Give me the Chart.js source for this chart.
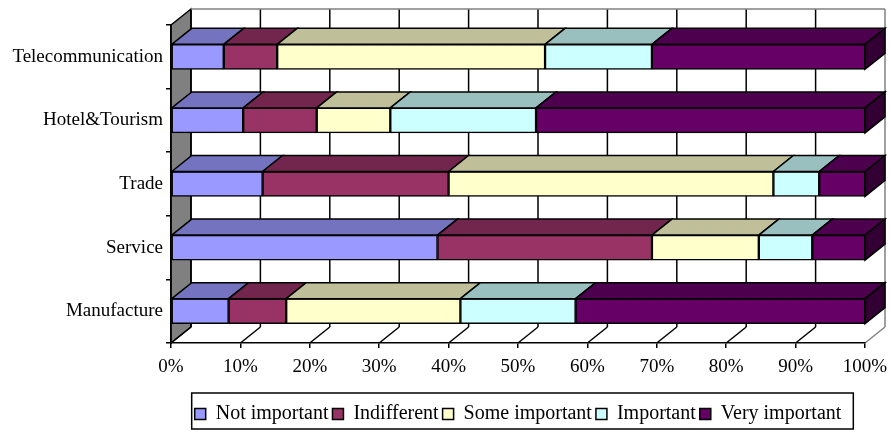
<!DOCTYPE html>
<html lang="en">
<head>
<meta charset="UTF-8">
<title>Importance by sector</title>
<script src="https://cdn.jsdelivr.net/npm/chart.js"></script>
<style>
  html, body { margin: 0; padding: 0; background: #fff; }
  #wrap { width: 892px; height: 432px; }
</style>
</head>
<body>
<div id="wrap"><canvas id="chart"></canvas></div>
<script>
// data (percent of answers per sector)
const sectors = ['Telecommunication', 'Hotel&Tourism', 'Trade', 'Service', 'Manufacture'];
const notImportant  = [7.6, 10.4, 13.2, 38.4, 8.3];
const indifferent   = [7.7, 10.6, 26.8, 30.9, 8.3];
const someImportant = [38.6, 10.6, 46.8, 15.4, 25.1];
const important     = [15.4, 21.0, 6.6, 7.7, 16.6];
const veryImportant = [30.7, 47.4, 6.6, 7.6, 41.7];
const xTicks = [0, 10, 20, 30, 40, 50, 60, 70, 80, 90, 100];

const FONT = 'Liberation Serif, Times New Roman, serif';
const depth = { dx: 20, dy: 16 };

function series(label, data, front, top) {
    return { label, data, backgroundColor: front, topColor: top,
             borderColor: '#000', borderWidth: 1.5, borderSkipped: false, barThickness: 25 };
}

// draws the walls, floor and the top / side faces of the bars
const threeD = {
    id: 'threeD',
    beforeDraw(chart) {
        const { ctx, chartArea: a, scales: { x } } = chart;
        const { dx, dy } = depth;
        ctx.save();
        ctx.lineWidth = 1.5;
        // left wall
        ctx.beginPath();
        ctx.moveTo(a.left, a.top);
        ctx.lineTo(a.left + dx, a.top - dy);
        ctx.lineTo(a.left + dx, a.bottom - dy);
        ctx.lineTo(a.left, a.bottom);
        ctx.closePath();
        ctx.fillStyle = '#808080';
        ctx.fill();
        ctx.strokeStyle = '#000';
        ctx.stroke();
        // back wall grid
        xTicks.forEach(v => {
            const px = x.getPixelForValue(v) + dx;
            ctx.beginPath();
            ctx.moveTo(px, a.top - dy);
            ctx.lineTo(px, a.bottom - dy);
            ctx.strokeStyle = v === 100 ? '#808080' : '#000';
            ctx.stroke();
        });
        ctx.beginPath();
        ctx.moveTo(a.left + dx, a.top - dy);
        ctx.lineTo(a.right + dx, a.top - dy);
        ctx.strokeStyle = '#808080';
        ctx.stroke();
        // floor
        xTicks.forEach(v => {
            const px = x.getPixelForValue(v);
            ctx.beginPath();
            ctx.moveTo(px, a.bottom);
            ctx.lineTo(px + dx, a.bottom - dy);
            ctx.strokeStyle = v === 100 ? '#808080' : '#000';
            ctx.stroke();
        });
        ctx.restore();
    },
    afterDatasetsDraw(chart) {
        const { ctx } = chart;
        const { dx, dy } = depth;
        const last = chart.data.datasets.length - 1;
        ctx.save();
        ctx.lineWidth = 1.5;
        ctx.strokeStyle = '#000';
        chart.data.datasets.forEach((ds, i) => {
            chart.getDatasetMeta(i).data.forEach(bar => {
                const { x, y, base, height } = bar.getProps(['x', 'y', 'base', 'height'], true);
                const t = y - height / 2, b = y + height / 2;
                ctx.beginPath();
                ctx.moveTo(base, t);
                ctx.lineTo(base + dx, t - dy);
                ctx.lineTo(x + dx, t - dy);
                ctx.lineTo(x, t);
                ctx.closePath();
                ctx.fillStyle = ds.topColor;
                ctx.fill();
                ctx.stroke();
                if (i === last) {
                    ctx.beginPath();
                    ctx.moveTo(x, t);
                    ctx.lineTo(x + dx, t - dy);
                    ctx.lineTo(x + dx, b - dy);
                    ctx.lineTo(x, b);
                    ctx.closePath();
                    ctx.fillStyle = '#330033';
                    ctx.fill();
                    ctx.stroke();
                }
            });
        });
        ctx.restore();
    },
    afterDraw(chart) {
        // frame round the legend
        const boxes = chart.legend.legendHitBoxes;
        if (!boxes || !boxes.length) return;
        const left = Math.min(...boxes.map(h => h.left)) - 3;
        const right = Math.max(...boxes.map(h => h.left + h.width)) + 12;
        const top = Math.min(...boxes.map(h => h.top)) - 11;
        const bottom = Math.max(...boxes.map(h => h.top + h.height)) + 5;
        const { ctx } = chart;
        ctx.save();
        ctx.lineWidth = 1.5;
        ctx.strokeStyle = '#000';
        ctx.strokeRect(left, top, right - left, bottom - top);
        ctx.restore();
    }
};

new Chart(document.getElementById('chart'), {
    type: 'bar',
    data: {
        labels: sectors,
        datasets: [
            series('Not important', notImportant, '#9999FF', '#7373BF'),
            series('Indifferent', indifferent, '#993366', '#73264D'),
            series('Some important', someImportant, '#FFFFCC', '#BFBF99'),
            series('Important', important, '#CCFFFF', '#99BFBF'),
            series('Very important', veryImportant, '#660066', '#4D004D')
        ]
    },
    options: {
        indexAxis: 'y',
        responsive: true,
        maintainAspectRatio: false,
        devicePixelRatio: 1,
        animation: false,
        layout: { padding: { top: 25, right: 27, left: 0, bottom: -2 } },
        scales: {
            x: {
                stacked: true, min: 0, max: 100,
                afterBuildTicks: s => { s.ticks = xTicks.map(v => ({ value: v })); },
                afterFit: s => { s.height = 57; s.paddingLeft = 0; s.paddingRight = 0; },
                ticks: { callback: v => v + '%', color: '#000', font: { family: FONT, size: 19 }, padding: 8, maxRotation: 0 },
                grid: { drawOnChartArea: false, color: '#000', tickLength: 5, lineWidth: 1.5 },
                border: { color: '#000', width: 1.5 }
            },
            y: {
                stacked: true,
                afterFit: s => { s.width = 171; },
                ticks: { color: '#000', font: { family: FONT, size: 19 }, padding: 3 },
                grid: { drawOnChartArea: false, color: '#000', tickLength: 5, lineWidth: 1.5, offset: true },
                border: { color: '#000', width: 1.5 }
            }
        },
        plugins: {
            legend: {
                position: 'bottom',
                fullSize: false,
                labels: { boxWidth: 11, boxHeight: 11, color: '#000', font: { family: FONT, size: 20 }, padding: 4 }
            },
            tooltip: { enabled: false }
        }
    },
    plugins: [threeD]
});
</script>
</body>
</html>
